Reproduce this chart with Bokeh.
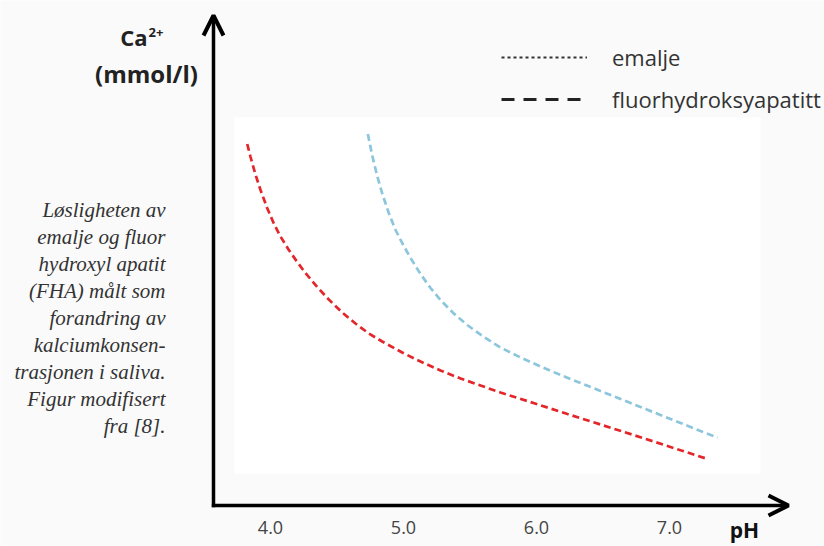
from bokeh.plotting import figure
from bokeh.models import (Range1d, Arrow, OpenHead, BoxAnnotation, Label,
                          Legend, LegendItem, ColumnDataSource)
from bokeh.embed import file_html
from bokeh.resources import INLINE

# ---------------- data ----------------
# fluorhydroksyapatitt (red) : pH vs Ca2+ (arbitrary units, no y scale shown)
fha_ph = [3.825, 3.850, 3.887, 3.925, 3.975, 4.025, 4.075, 4.138, 4.201, 4.263,
          4.351, 4.438, 4.539, 4.639, 4.739, 4.840, 4.990, 5.128, 5.278, 5.429,
          5.579, 5.729, 5.977, 6.233, 6.481, 6.729, 6.985, 7.286]
fha_ca = [7.23, 6.97, 6.62, 6.31, 5.95, 5.64, 5.38, 5.11, 4.87, 4.65,
          4.37, 4.12, 3.86, 3.64, 3.44, 3.28, 3.06, 2.88, 2.70, 2.54,
          2.40, 2.26, 2.05, 1.83, 1.62, 1.41, 1.19, 0.93]
# emalje (blue)
em_ph = [4.732, 4.765, 4.802, 4.840, 4.889, 4.940, 4.990, 5.053, 5.128, 5.203,
         5.278, 5.378, 5.479, 5.604, 5.729, 5.880, 6.030, 6.180, 6.331, 6.481,
         6.632, 6.782, 6.932, 7.083, 7.233, 7.361]
em_ca = [7.43, 7.00, 6.59, 6.24, 5.85, 5.51, 5.25, 4.95, 4.63, 4.35,
         4.11, 3.84, 3.61, 3.37, 3.16, 2.96, 2.78, 2.61, 2.45, 2.29,
         2.13, 1.97, 1.81, 1.65, 1.49, 1.36]

tick_values = [4.0, 5.0, 6.0, 7.0]
tick_labels = ["4.0", "5.0", "6.0", "7.0"]

legend_labels = ["emalje", "fluorhydroksyapatitt"]

caption_lines = ["Løsligheten av", "emalje og fluor", "hydroxyl apatit",
                 "(FHA) målt som", "forandring av", "kalciumkonsen-",
                 "trasjonen i saliva.", "Figur modifisert", "fra [8]."]

# ---------------- layout helpers ----------------
W, H = 824, 546
PX_PER_PH = 133.0
PH4_PX = 270.0          # canvas x of pH 4
PX_PER_CA = 50.0
CA0_PX = 505.0          # canvas y (from top) of the x axis


def X(px):
    return 4.0 + (px - PH4_PX) / PX_PER_PH


def Y(py):
    return (CA0_PX - py) / PX_PER_CA


p = figure(width=W, height=H, output_backend="svg", toolbar_location=None,
           x_range=Range1d(X(0), X(W)), y_range=Range1d(Y(H), Y(0)),
           x_axis_location=None, y_axis_location=None, min_border=0,
           title=None)
p.grid.visible = False
p.outline_line_color = None
p.background_fill_color = "#fafafa"
p.border_fill_color = "#fafafa"

# white plotting panel
p.add_layout(BoxAnnotation(left=X(234), right=X(760), bottom=Y(473), top=Y(117),
                           fill_color="white", fill_alpha=1.0, line_alpha=0,
                           level="underlay"))

# curves
p.line(fha_ph, fha_ca, line_color="#e4262b", line_width=2.7, line_dash="7 4")
p.line(em_ph, em_ca, line_color="#8bc6dc", line_width=2.7, line_dash="7 4")

# axes with arrows
ax_x = X(213)
p.add_layout(Arrow(end=OpenHead(size=20, line_width=4, line_color="black"),
                   x_start=ax_x, y_start=Y(506.7), x_end=ax_x, y_end=Y(15),
                   line_width=3.5, line_color="black"))
p.add_layout(Arrow(end=OpenHead(size=20, line_width=4, line_color="black"),
                   x_start=X(211.3), y_start=Y(505), x_end=X(788), y_end=Y(505),
                   line_width=3.5, line_color="black"))

# tick labels
tsrc = ColumnDataSource(dict(x=tick_values, y=[Y(527)] * len(tick_values),
                             t=tick_labels))
p.text(x="x", y="y", text="t", source=tsrc, text_align="center",
       text_baseline="middle", text_font={"value": "Open Sans"},
       text_font_size="18px", text_color="#444444")

# axis titles
p.add_layout(Label(x=X(744), y=Y(529), text="pH", text_align="center",
                   text_baseline="middle", text_font="Open Sans",
                   text_font_style="bold", text_font_size="21px",
                   text_color="#111111"))
p.add_layout(Label(x=X(147), y=Y(36), text="Ca", text_align="right",
                   text_baseline="middle", text_font="Open Sans",
                   text_font_style="bold", text_font_size="22px",
                   text_color="#222222"))
p.add_layout(Label(x=X(148), y=Y(32), text="2+", text_align="left",
                   text_baseline="middle", text_font="Open Sans",
                   text_font_style="bold", text_font_size="13px",
                   text_color="#222222"))
p.add_layout(Label(x=X(146), y=Y(73), text="(mmol/l)", text_align="center",
                   text_baseline="middle", text_font="Open Sans",
                   text_font_style="bold", text_font_size="24px",
                   text_color="#222222"))

# caption
for i, line in enumerate(caption_lines):
    p.add_layout(Label(x=X(165), y=Y(209 + 27 * i), text=line,
                       text_align="right", text_baseline="middle",
                       text_font="Liberation Serif", text_font_style="italic",
                       text_font_size="21px", text_color="#333333"))

# legend (samples drawn in black as in the figure)
nan = float("nan")
r_em = p.line(x=[nan, nan], y=[nan, nan], line_color="#333333", line_width=2,
              line_dash="3 3")
r_fha = p.line(x=[nan, nan], y=[nan, nan], line_color="#222222", line_width=3,
               line_dash="13 9")
legend = Legend(items=[LegendItem(label=legend_labels[0], renderers=[r_em]),
                       LegendItem(label=legend_labels[1], renderers=[r_fha])],
                location=(501, 432), orientation="vertical",
                glyph_width=86, glyph_height=20, label_height=20,
                label_standoff=25, spacing=12, padding=0, margin=0,
                border_line_alpha=0, background_fill_alpha=0,
                label_text_font="Open Sans", label_text_font_size="22px",
                label_text_color="#333333")
p.add_layout(legend)

open("out.html", "w").write(file_html(p, INLINE))
